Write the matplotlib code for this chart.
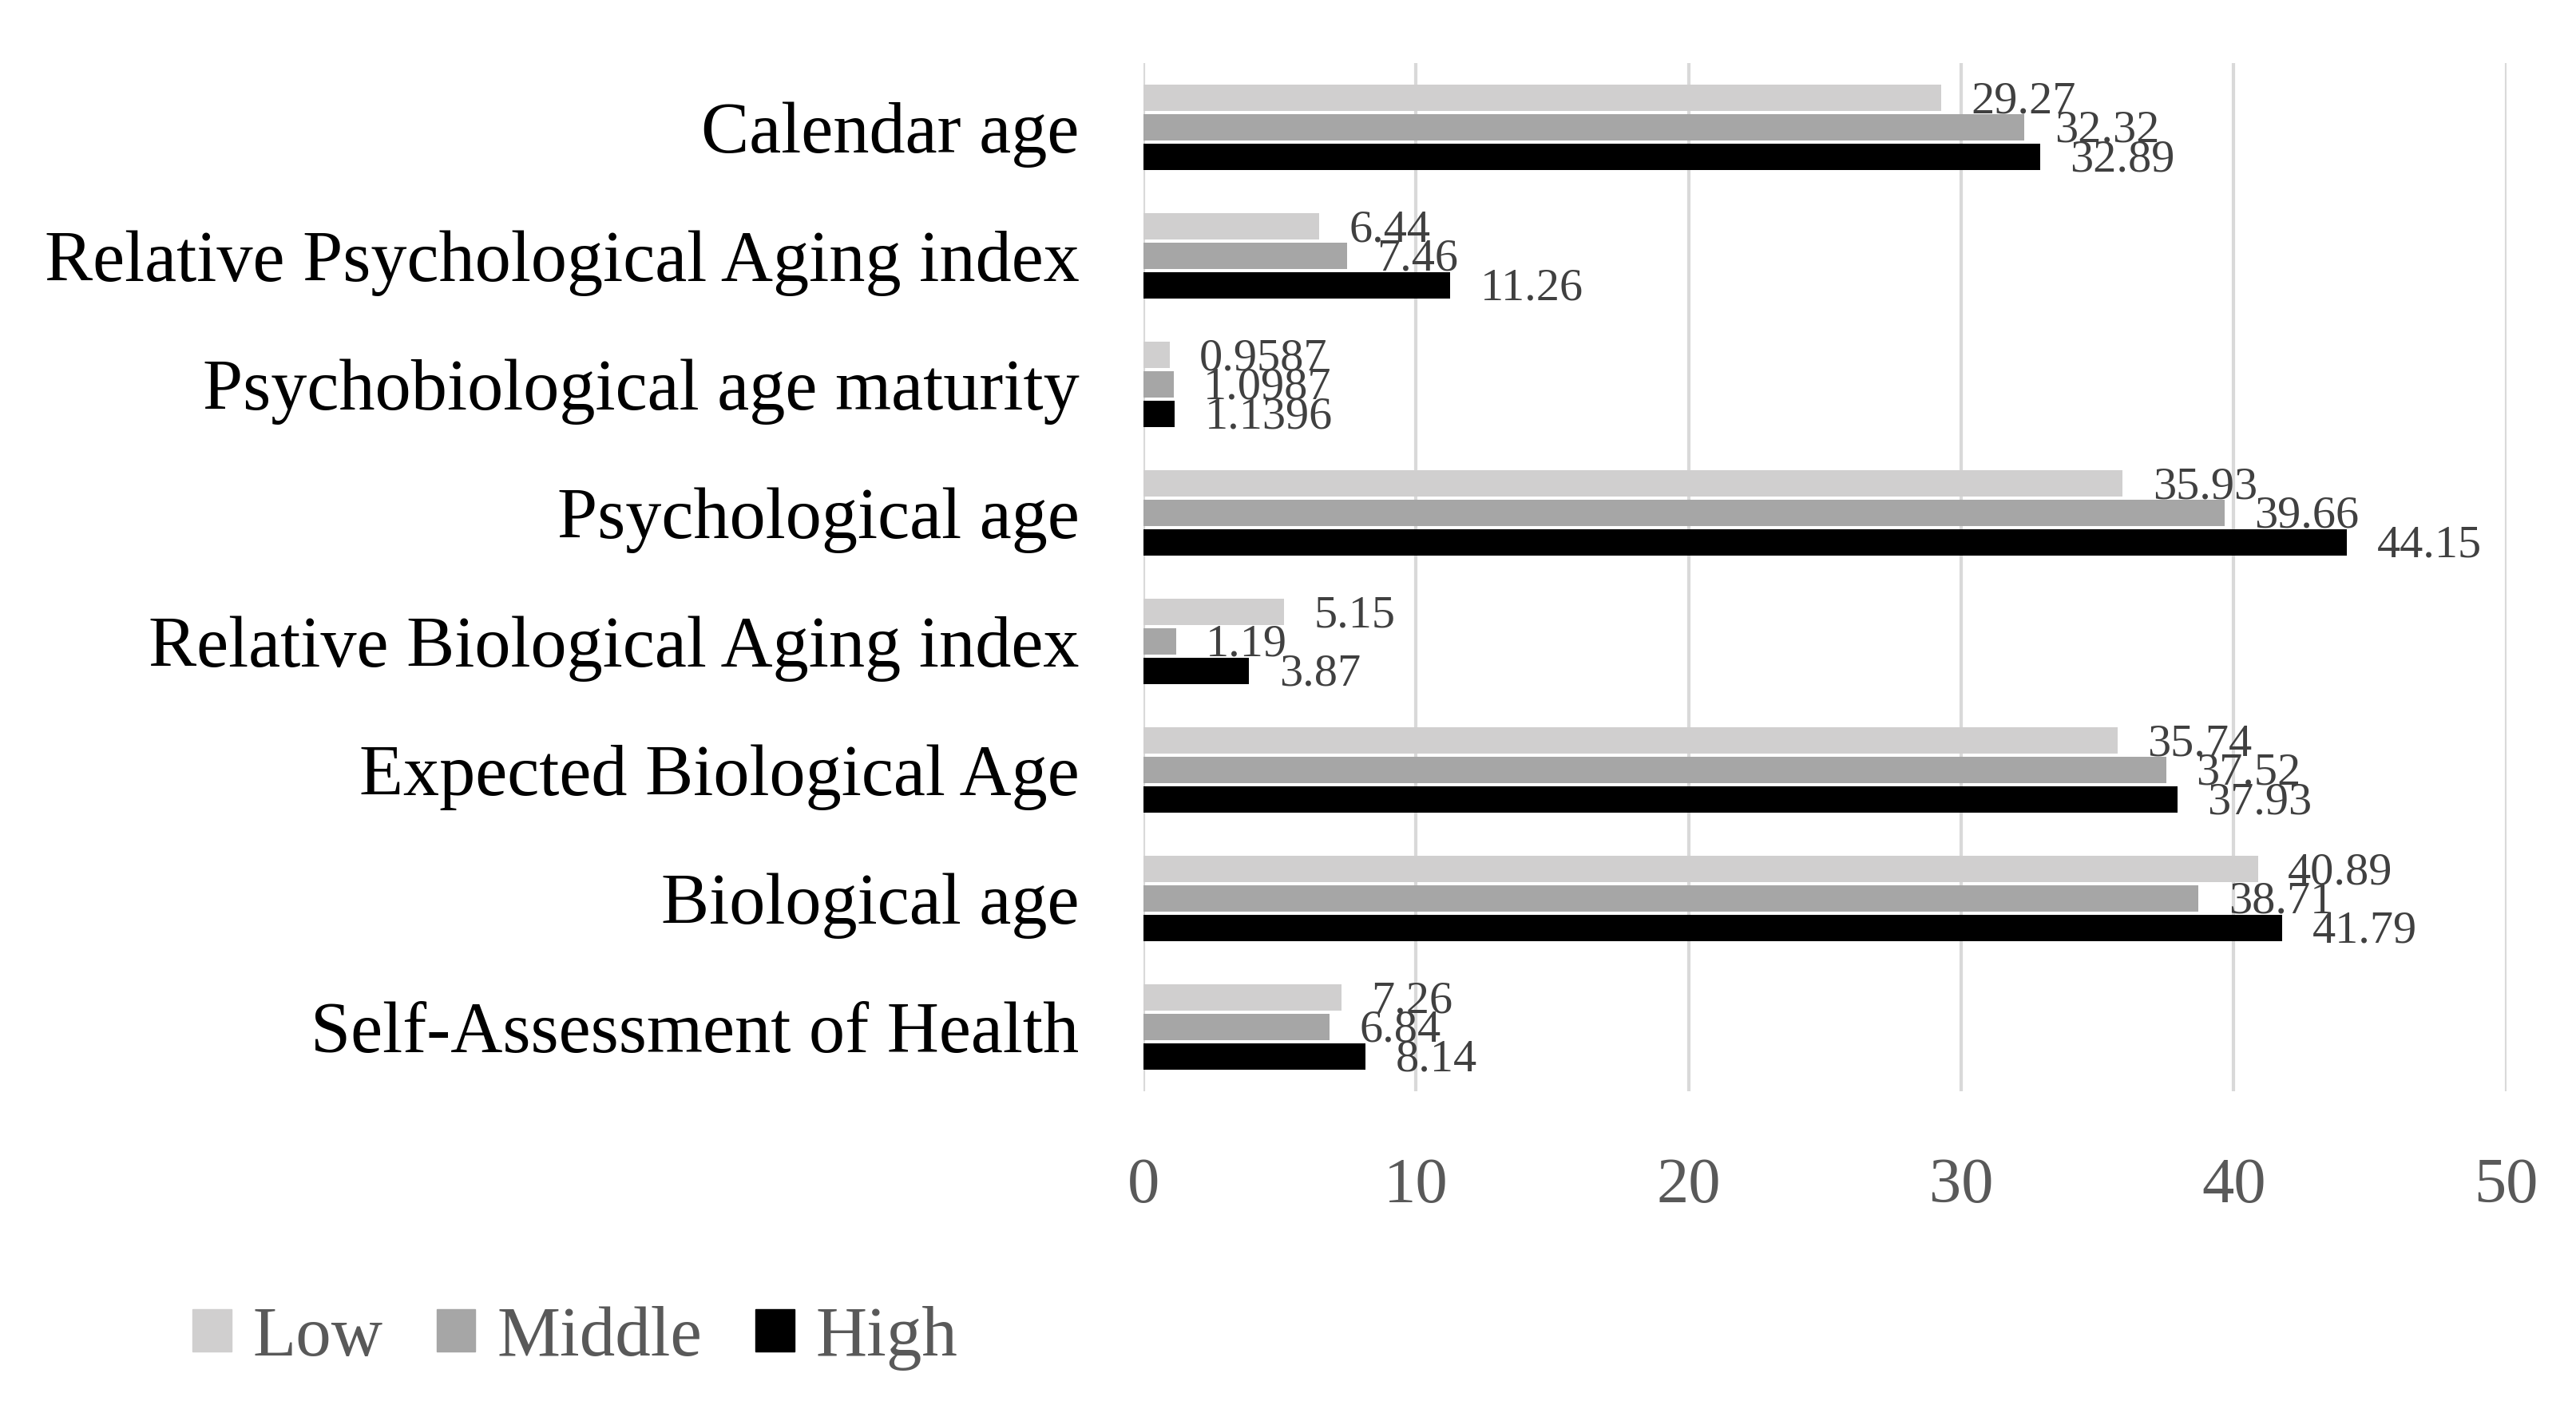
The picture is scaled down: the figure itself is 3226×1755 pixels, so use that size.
import matplotlib
matplotlib.use("Agg")
import matplotlib.pyplot as plt
import matplotlib.patches as mpatches
import numpy as np

categories = ["Calendar age", "Relative Psychological Aging index",
              "Psychobiological age maturity", "Psychological age",
              "Relative Biological Aging index", "Expected Biological Age",
              "Biological age", "Self-Assessment of Health"]
low = [29.27, 6.44, 0.9587, 35.93, 5.15, 35.74, 40.89, 7.26]
middle = [32.32, 7.46, 1.0987, 39.66, 1.19, 37.52, 38.71, 6.84]
high = [32.89, 11.26, 1.1396, 44.15, 3.87, 37.93, 41.79, 8.14]
series_names = ["Low", "Middle", "High"]
colors = ["#d0cfcf", "#a6a6a6", "#000000"]

plt.rcParams['font.family'] = ['Liberation Serif', 'DejaVu Serif']

fig = plt.figure(figsize=(32.26, 17.55), dpi=100)
ax = fig.add_axes([0.4439, 0.2211, 0.5290, 0.7339])

y = np.arange(len(categories))
step = 0.227
height = 0.205
for i, (vals, c) in enumerate(zip([low, middle, high], colors)):
    pos = y + (i - 1) * step
    ax.barh(pos, vals, height=height, color=c, zorder=3)
    for p, v in zip(pos, vals):
        ax.annotate(f"{v:g}", (v, p), xytext=(27, -3), textcoords="offset points",
                    va="center", ha="left", fontsize=42, color="#404040", zorder=4)

ax.set_xlim(0, 50)
ax.set_ylim(len(categories) - 0.5, -0.5)
ax.set_xticks(range(0, 51, 10))
ax.set_yticks(y)
ax.set_yticklabels(categories, fontsize=65, color="#000000")
ax.tick_params(axis="x", length=0, pad=60, labelsize=58, labelcolor="#595959")
ax.tick_params(axis="y", length=0, pad=58)
ax.grid(axis="x", color="#d9d9d9", linewidth=3, zorder=0)
for s in ax.spines.values():
    s.set_visible(False)

handles = [mpatches.Patch(color=c, label=n) for c, n in zip(colors, series_names)]
leg = fig.legend(handles=handles, loc="lower left", bbox_to_anchor=(0.05, -0.024),
                 ncol=3, frameon=False, fontsize=64, handlelength=0.55,
                 handleheight=0.55, handletextpad=0.3, columnspacing=0.75)
for t in leg.get_texts():
    t.set_color("#595959")

fig.savefig("out.png", dpi=100)
